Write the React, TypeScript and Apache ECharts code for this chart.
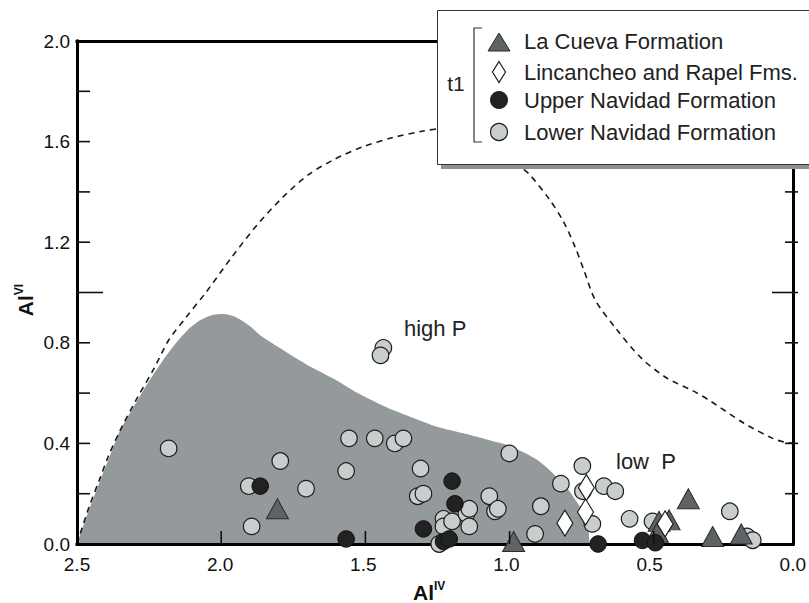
import React, { useEffect, useRef } from 'react';
import * as echarts from 'echarts';

// ---- data (Al IV, Al VI) ----
const lowerNavidad: number[][] = [
  [2.18, 0.38], [1.79, 0.33], [1.90, 0.23], [1.70, 0.22], [1.89, 0.07],
  [1.55, 0.42], [1.46, 0.42], [1.39, 0.40], [1.36, 0.42], [1.56, 0.29],
  [1.43, 0.78], [1.44, 0.75], [1.30, 0.30], [1.31, 0.19], [1.29, 0.20],
  [1.22, 0.10], [1.22, 0.07], [1.19, 0.09], [1.14, 0.12], [1.13, 0.14],
  [1.13, 0.07], [1.235, 0.0], [1.06, 0.19], [1.04, 0.13], [1.03, 0.14],
  [0.99, 0.36], [0.88, 0.15], [0.90, 0.04], [0.81, 0.24], [0.735, 0.31],
  [0.733, 0.21], [0.70, 0.08], [0.66, 0.23], [0.62, 0.21], [0.57, 0.10],
  [0.49, 0.09], [0.22, 0.13], [0.16, 0.03], [0.14, 0.015],
];
const upperNavidad: number[][] = [
  [1.86, 0.23], [1.56, 0.02], [1.19, 0.25], [1.18, 0.16], [1.29, 0.06],
  [1.22, 0.01], [1.20, 0.02], [0.68, 0.0], [0.525, 0.014], [0.48, 0.005],
];
const laCueva: number[][] = [
  [1.80, 0.14], [0.975, 0.01], [0.365, 0.18], [0.28, 0.03], [0.18, 0.04],
  [0.467, 0.09], [0.432, 0.096], [0.473, 0.047],
];
const lincancheoRapel: number[][] = [
  [0.796, 0.083], [0.721, 0.224], [0.724, 0.127], [0.446, 0.08],
];
// shaded high-P field outline
const shadedField: number[][] = [
  [2.5, 0], [2.46, 0.13], [2.42, 0.25], [2.385, 0.35], [2.35, 0.45], [2.30, 0.55],
  [2.25, 0.645], [2.20, 0.73], [2.15, 0.805], [2.11, 0.855], [2.07, 0.89], [2.03, 0.91],
  [1.99, 0.915], [1.95, 0.905], [1.90, 0.87], [1.86, 0.83], [1.80, 0.785], [1.70, 0.715],
  [1.60, 0.655], [1.52, 0.60], [1.45, 0.56], [1.39, 0.53], [1.30, 0.49], [1.24, 0.465],
  [1.15, 0.44], [1.10, 0.425], [1.05, 0.41], [1.00, 0.395], [0.95, 0.37], [0.90, 0.34],
  [0.86, 0.305], [0.82, 0.26], [0.78, 0.21], [0.75, 0.16], [0.73, 0.12], [0.715, 0.07],
  [0.71, 0],
];
// dashed boundary curve
const boundaryCurve: number[][] = [
  [2.5, 0], [2.46, 0.14], [2.42, 0.26], [2.39, 0.35], [2.35, 0.45], [2.29, 0.58],
  [2.23, 0.70], [2.18, 0.81], [2.12, 0.90], [2.05, 1.0], [1.96, 1.14], [1.87, 1.27],
  [1.78, 1.38], [1.69, 1.47], [1.60, 1.53], [1.50, 1.58], [1.40, 1.615], [1.30, 1.64],
  [1.20, 1.655], [1.12, 1.655], [1.05, 1.62], [1.00, 1.56], [0.96, 1.51], [0.92, 1.47],
  [0.85, 1.37], [0.80, 1.28], [0.76, 1.18], [0.73, 1.09], [0.69, 0.97], [0.62, 0.86],
  [0.53, 0.74], [0.44, 0.66], [0.35, 0.61], [0.29, 0.57], [0.17, 0.48], [0.07, 0.42],
  [0.03, 0.405], [0, 0.40],
];
const xTickValues = [2.0, 1.5, 1.0, 0.5];
const yTickValues = [0.2, 0.4, 0.6, 0.8, 1.2, 1.4, 1.6, 1.8];
const yLongTickValues = [1.0];
const legendLabels = [
  'La Cueva Formation',
  'Lincancheo and Rapel Fms.',
  'Upper Navidad Formation',
  'Lower Navidad Formation',
];
const annotations = ['high P', 'low  P'];

const FONT = "'Liberation Sans', Arial, sans-serif";
const GRID = { left: 77, right: 11, top: 41, bottom: 59 };
const W = 809;
const H = 603;
const X_MIN = 0, X_MAX = 2.5, Y_MIN = 0, Y_MAX = 2;

export default function App() {
  const ref = useRef<HTMLDivElement>(null);
  useEffect(() => {
    document.body.style.margin = '0';
    const chart = echarts.init(ref.current!, undefined, { renderer: 'svg' });

    const yLabel = (v: number) => (Math.round(v * 10) % 4 === 0 ? v.toFixed(1) : '');
    const frameLine = { show: true, onZero: false, lineStyle: { color: '#000', width: 3, cap: 'square' } };
    const yBase = { type: 'value', min: Y_MIN, max: Y_MAX, splitLine: { show: false }, axisTick: { show: false } };

    // axis-frame ticks (x axis inverted: 2.5 at left)
    const gw = W - GRID.left - GRID.right;
    const gh = H - GRID.top - GRID.bottom;
    const px = (x: number) => GRID.left + ((X_MAX - x) / (X_MAX - X_MIN)) * gw;
    const py = (y: number) => GRID.top + ((Y_MAX - y) / (Y_MAX - Y_MIN)) * gh;
    const ticks: any[] = [];
    const seg = (a: number[], b: number[]) => ({
      type: 'polyline', z: 40, shape: { points: [a, b] },
      style: { stroke: '#111', lineWidth: 1.6, fill: null },
    });
    const addY = (v: number, len: number) => {
      const y = py(v);
      ticks.push(seg([px(X_MAX), y], [px(X_MAX) + len, y]));
      ticks.push(seg([px(X_MIN), y], [px(X_MIN) - len, y]));
    };
    yTickValues.forEach((v) => addY(v, 13));
    yLongTickValues.forEach((v) => addY(v, 26));
    xTickValues.forEach((v) => {
      const x = px(v);
      ticks.push(seg([x, py(0)], [x, py(0) - 13]));
    });

    const graphic: any[] = [
      ...ticks,
      // annotations
      { type: 'text', left: 404, top: 317, z: 20, style: { text: annotations[0], fontSize: 22, fill: '#222', fontFamily: FONT } },
      { type: 'text', left: 616, top: 450, z: 20, style: { text: annotations[1], fontSize: 22, fill: '#222', fontFamily: FONT } },
      // axis titles
      {
        type: 'text', x: 413, y: 592, z: 20,
        style: {
          text: '{a|Al}{b|IV}', align: 'left', verticalAlign: 'middle', fill: '#111',
          rich: {
            a: { fontSize: 21, fontWeight: 'bold', fontFamily: FONT, lineHeight: 24, fill: '#111' },
            b: { fontSize: 12, fontWeight: 'bold', fontFamily: FONT, lineHeight: 12, verticalAlign: 'top', fill: '#111' },
          },
        },
      },
      {
        type: 'text', x: 25, y: 300, rotation: Math.PI / 2, z: 20,
        style: {
          text: '{a|Al}{b|VI}', align: 'center', verticalAlign: 'middle', fill: '#111',
          rich: {
            a: { fontSize: 21, fontWeight: 'bold', fontFamily: FONT, lineHeight: 24, fill: '#111' },
            b: { fontSize: 12, fontWeight: 'bold', fontFamily: FONT, lineHeight: 12, verticalAlign: 'top', fill: '#111' },
          },
        },
      },
      // legend box
      { type: 'rect', z: 50, shape: { x: 441, y: 14, width: 372, height: 155 }, style: { fill: '#8c9192' } },
      { type: 'rect', z: 51, shape: { x: 437.5, y: 10.5, width: 372, height: 154 }, style: { fill: '#ffffff', stroke: '#333', lineWidth: 1 } },
      { type: 'text', z: 52, x: 456, y: 83, style: { text: 't1', fontSize: 21, fill: '#222', align: 'center', verticalAlign: 'middle', fontFamily: FONT } },
      { type: 'polyline', z: 52, shape: { points: [[482, 28], [474, 28], [474, 142], [482, 142]] }, style: { stroke: '#333', lineWidth: 1.2, fill: null } },
      { type: 'polygon', z: 52, shape: { points: [[488, 51], [510, 51], [499, 33]] }, style: { fill: '#5e6465', stroke: '#2a2a2a', lineWidth: 1 } },
      { type: 'polygon', z: 52, shape: { points: [[499, 61.5], [505.5, 72], [499, 82.5], [492.5, 72]] }, style: { fill: '#fff', stroke: '#1e1e1e', lineWidth: 1.2 } },
      { type: 'circle', z: 52, shape: { cx: 499, cy: 100, r: 9 }, style: { fill: '#222' } },
      { type: 'circle', z: 52, shape: { cx: 499, cy: 132, r: 8.5 }, style: { fill: '#c8cdce', stroke: '#1e1e1e', lineWidth: 1.2 } },
      ...legendLabels.map((t, i) => ({
        type: 'text', z: 52, x: 524, y: [41, 72, 100, 132][i],
        style: { text: t, fontSize: 22, fill: '#222', align: 'left', verticalAlign: 'middle', fontFamily: FONT },
      })),
    ];

    const option: any = {
      animation: false,
      textStyle: { fontFamily: FONT },
      grid: GRID,
      xAxis: [
        {
          type: 'value', min: X_MIN, max: X_MAX, interval: 0.5, inverse: true, position: 'bottom', z: 3,
          axisLine: frameLine, axisTick: { show: false },
          axisLabel: { fontSize: 19, color: '#111', margin: 11, formatter: (v: number) => v.toFixed(1) },
          splitLine: { show: false },
        },
        {
          type: 'value', min: X_MIN, max: X_MAX, interval: 0.5, inverse: true, position: 'top', z: 3,
          axisLine: frameLine, axisTick: { show: false }, axisLabel: { show: false }, splitLine: { show: false },
        },
      ],
      yAxis: [
        {
          ...yBase, interval: 0.2, position: 'left', axisLine: frameLine, z: 3,
          axisLabel: { fontSize: 19, color: '#111', margin: 7, formatter: yLabel },
        },
        {
          ...yBase, interval: 0.2, position: 'right', axisLine: frameLine, z: 3,
          axisLabel: { show: false },
        },
      ],
      series: [
        {
          type: 'line', name: 'field', data: shadedField, symbol: 'none', smooth: 0.25, z: 1,
          lineStyle: { width: 0 }, areaStyle: { color: '#949a9b', opacity: 1 }, silent: true,
        },
        {
          type: 'line', name: 'boundary', data: boundaryCurve, symbol: 'none', smooth: 0.3, z: 2,
          lineStyle: { color: '#1a1a1a', width: 1.6, type: [6, 5] }, silent: true,
        },
        {
          type: 'scatter', name: legendLabels[3], data: lowerNavidad, symbol: 'circle', symbolSize: 16.5, z: 5,
          itemStyle: { color: '#c8cdce', borderColor: '#1e1e1e', borderWidth: 1.2, opacity: 1 },
        },
        {
          type: 'scatter', name: legendLabels[0], data: laCueva, symbol: 'triangle', symbolSize: [22, 20], z: 6,
          itemStyle: { color: '#5e6465', borderColor: '#2a2a2a', borderWidth: 1, opacity: 1 },
        },
        {
          type: 'scatter', name: legendLabels[1], data: lincancheoRapel, symbol: 'diamond', symbolSize: [16, 26], z: 7,
          itemStyle: { color: '#ffffff', borderColor: '#1e1e1e', borderWidth: 1.2, opacity: 1 },
        },
        {
          type: 'scatter', name: legendLabels[2], data: upperNavidad, symbol: 'circle', symbolSize: 16.5, z: 8,
          itemStyle: { color: '#222222', borderColor: '#111', borderWidth: 1, opacity: 1 },
        },
      ],
      graphic,
    };
    chart.setOption(option);
    return () => chart.dispose();
  }, []);
  return <div ref={ref} style={{ width: W, height: H }} />;
}
